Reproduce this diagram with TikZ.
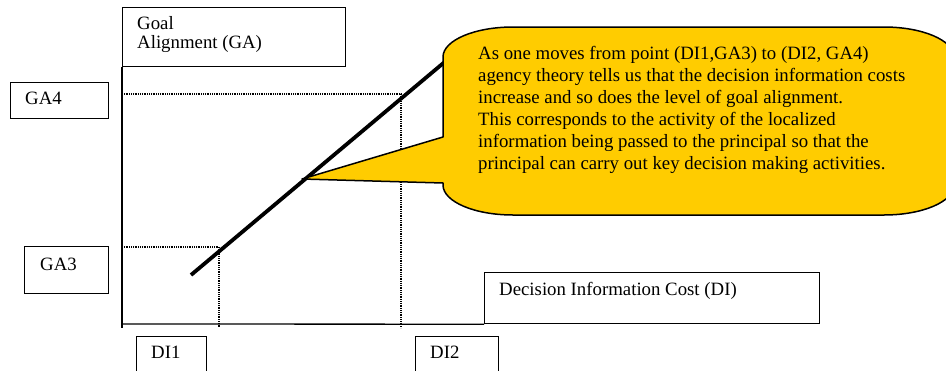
\documentclass[tikz,border=0pt]{standalone}
\usepackage{fontspec}
\setmainfont{Liberation Serif}
\definecolor{calloutyellow}{RGB}{255,204,0}
\begin{document}
\begin{tikzpicture}[x=1pt,y=-1pt,
  box/.style={draw, line width=1.2pt, inner sep=0pt, anchor=north west},
  lbl/.style={inner sep=0pt, anchor=base west, font=\fontsize{18.8}{22}\selectfont},
  para/.style={inner sep=0pt, anchor=north west, align=left},
  axis/.style={line width=1.3pt},
  guide/.style={line width=1.5pt, dash pattern=on 1pt off 0.8pt},
  trend/.style={line width=3.8pt},
  callout/.style={fill=calloutyellow, draw=black, line width=1.5pt, line join=round}]
\useasboundingbox (0,0) rectangle (946,370);
\clip (0,0) rectangle (946,370);

% label boxes
\node[box, minimum width=223pt, minimum height=59pt] (goalbox) at (122,7) {};
\node[box, minimum width=98pt,  minimum height=36pt] (ga4box)  at (10,82) {};
\node[box, minimum width=84pt,  minimum height=47pt] (ga3box)  at (24,246) {};
\node[box, minimum width=70pt,  minimum height=50pt] (di1box)  at (136,336) {};
\node[box, minimum width=83pt,  minimum height=50pt] (di2box)  at (415,336) {};
\node[box, minimum width=335pt, minimum height=51pt] (dicbox)  at (484,272) {};

\node[para, font=\fontsize{18.8}{19.5}\selectfont] (goaltxt) at (137,16) {Goal\\Alignment (GA)};
\node[lbl] (ga4) at (25,104) {GA4};
\node[lbl] (ga3) at (40,270) {GA3};
\node[lbl] (di1) at (151,358) {DI1};
\node[lbl] (di2) at (430,358) {DI2};
\node[lbl] (dic) at (499,295) {Decision Information Cost (DI)};

% axes
\coordinate (origin) at (122,324);
\coordinate (ybottom) at (122,328);
\draw[axis] (goalbox.south west) -- (ybottom);
\draw[axis] (origin) -- (dicbox.south west);

% guide lines to the two operating points
\coordinate (p3) at (219,247);
\coordinate (p4) at (401,94);
\draw[guide] (122,247) -- (p3) -- (219,328);
\draw[guide] (122,94) -- (p4) -- (401,328);

% trend line
\coordinate (tstart) at (191,275);
\coordinate (tend) at (447,60);
\draw[trend] (tstart) -- (tend);

% callout
\coordinate (tip) at (302,179);
\draw[callout] (443,137) -- (tip) -- (443,183) -- (443,185)
  .. controls (443,201.6) and (474.4,215) .. (513,215) -- (884,215)
  .. controls (922.6,215) and (954,201.6) .. (954,185) -- (954,57)
  .. controls (954,40.4) and (922.6,27) .. (884,27) -- (513,27)
  .. controls (474.4,27) and (443,40.4) .. (443,57) -- cycle;
\node[para, font=\fontsize{18.8}{22}\selectfont] (note) at (478,46) {As one moves from point (DI1,GA3) to (DI2, GA4)\\
agency theory tells us that the decision information costs\\
increase and so does the level of goal alignment.\\
This corresponds to the activity of the localized\\
information being passed to the principal so that the\\
principal can carry out key decision making activities.};
\end{tikzpicture}
\end{document}
